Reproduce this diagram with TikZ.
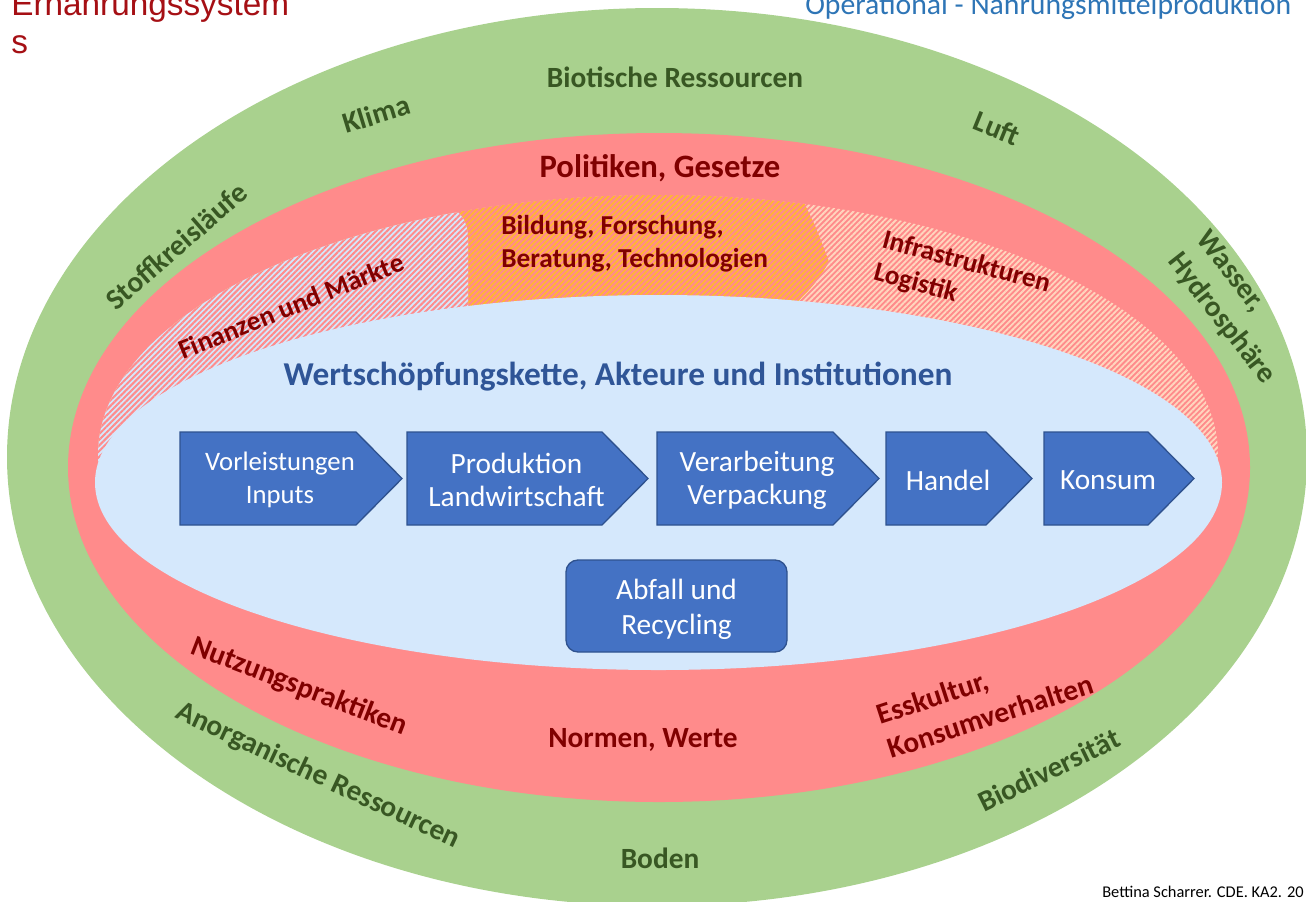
\documentclass[tikz,border=0pt]{standalone}
\usepackage{fontspec}
\setmainfont{Carlito}
\newfontfamily\titlefont{Liberation Sans}
\usepackage{xcolor}
\usetikzlibrary{patterns.meta}
\definecolor{ringgreen}{HTML}{A9D18E}
\definecolor{txtgreen}{HTML}{385723}
\definecolor{ringred}{HTML}{FF8B8B}
\definecolor{txtred}{HTML}{800000}
\definecolor{coreblue}{HTML}{D5E8FC}
\definecolor{txtblue}{HTML}{2F5597}
\definecolor{boxblue}{HTML}{4472C4}
\definecolor{boxedge}{HTML}{2F528F}
\definecolor{stripepeach}{HTML}{FFD6BE}
\definecolor{stripegold}{HTML}{FFB92E}
\definecolor{headblue}{HTML}{2E75B6}
\definecolor{headred}{HTML}{A50F14}

\begin{document}
\begin{tikzpicture}[x=0.75pt,y=-0.75pt]
  \tikzset{greenlbl/.style = {text=txtgreen, font=\fontsize{22}{27}\selectfont\bfseries, inner sep=0pt, align=left}}
  \tikzset{redlbl/.style = {text=txtred, font=\fontsize{22}{27}\selectfont\bfseries, inner sep=0pt, align=left}}
  \tikzset{bandlbl/.style = {text=txtred, font=\fontsize{20.5}{25}\selectfont\bfseries, inner sep=0pt, align=left}}
  \tikzset{boxtext/.style = {text=white, inner sep=0pt, align=center}}
  \tikzset{chainbox/.style = {fill=boxblue, draw=boxedge, line width=1pt}}
  \tikzset{wastebox/.style = {fill=boxblue, draw=boxedge, line width=1pt, rounded corners=9pt}}
  \tikzset{%
  peachhatch/.style={fill=ringred, postaction={pattern={Lines[angle=45,distance=3pt,line width=1.4pt]}, pattern color=stripepeach}},
  goldhatch/.style={fill=ringred, postaction={pattern={Lines[angle=45,distance=3pt,line width=1.2pt]}, pattern color=stripegold}},
  redhatch/.style={fill=coreblue, postaction={pattern={Lines[angle=45,distance=3pt,line width=1.5pt]}, pattern color=ringred}},
}
  \useasboundingbox (0,0) rectangle (1306,901);
  \clip (0,0) rectangle (1306,901);

  % rings
  \fill[ringgreen] (657,457) ellipse [x radius=650, y radius=449];
  \fill[ringred] (659,467.5) ellipse [x radius=591, y radius=334.5];

  % hatched band
  \begin{scope}
    \clip (658,455) ellipse [x radius=560, y radius=260];
    \clip (0,0) rectangle (1306,462);
    \path[peachhatch] (0,0) rectangle (1306,462);
    \path[goldhatch] (60,100) -- (795,100) -- (800,195) .. controls (815,225) .. (829,262) .. controls (815,284) .. (793,306) -- (60,470) -- cycle;
    \path[redhatch] (60,100) -- (445,100) -- (445,205) .. controls (462,211) and (468,222) .. (468,240) -- (468,470) -- (60,470) -- cycle;
  \end{scope}
  \fill[coreblue] (658.5,482.5) ellipse [x radius=563.5, y radius=187.5];

  % value chain
  \foreach \nm/\xa/\xb/\fs/\txt in {vorl/180/402/20/{Vorleistungen\\Inputs}, prod/407/648/22/{Produktion\\Landwirtschaft}, verarb/657/879/22/{Verarbeitung\\Verpackung}, handel/886/1032/22/Handel, konsum/1044/1194/22/Konsum}
  {
    \draw[chainbox] (\xa,432) -- (\xb-46,432) -- (\xb,478.5) -- (\xb-46,525) -- (\xa,525) -- cycle;
    \node[boxtext, font=\fontsize{\fs}{25}\selectfont] (\nm) at ({(\xa+\xb)/2-11},480) {\txt};
  }
  \draw[wastebox] (566,560) rectangle (787,652);
  \node[boxtext, font=\fontsize{22}{26}\selectfont] (abfall) at (676.5,609) {Abfall und\\Recycling};

  % labels
  \node[greenlbl] (biotisch) at (675,77) {Biotische Ressourcen};
  \node[greenlbl, rotate=17] (klima) at (376,114) {Klima};
  \node[greenlbl, rotate=-22] (luft) at (997,128) {Luft};
  \node[greenlbl, rotate=41] (stoff) at (176,246) {Stoffkreisläufe};
  \node[greenlbl, rotate=-52] (wasser) at (1235,308) {Wasser,\\Hydrosphäre};
  \node[greenlbl, rotate=-25] (anorg) at (318,776) {Anorganische Ressourcen};
  \node[greenlbl] (boden) at (660,858) {Boden};
  \node[greenlbl, rotate=26] (biodiv) at (1049,770) {Biodiversität};

  \node[redlbl, font=\fontsize{24.5}{29}\selectfont\bfseries] (politik) at (660,168) {Politiken, Gesetze};
  \node[redlbl, rotate=-21] (nutzung) at (299,687) {Nutzungspraktiken};
  \node[redlbl] (normen) at (643,740) {Normen, Werte};
  \node[redlbl, rotate=18] (esskultur) at (985,699) {Esskultur,\\Konsumverhalten};

  \node[bandlbl, anchor=west] (bildung) at (501,244) {Bildung, Forschung,\\Beratung, Technologien};
  \node[bandlbl, rotate=22] (finanzen) at (291,306) {Finanzen und Märkte};
  \node[bandlbl, rotate=-15] (infra) at (962,279) {Infrastrukturen\\Logistik};

  \node[text=txtblue, inner sep=0pt, font=\fontsize{25}{29}\selectfont\bfseries] (wsk) at (618,377) {Wertschöpfungskette, Akteure und Institutionen};

  % headers
  \node[anchor=west, inner sep=0pt, align=left, text=headred, font=\titlefont\fontsize{25}{28.5}\selectfont] (title) at (11,23) {Ernährungssystem\\s};
  \node[anchor=base west, inner sep=0pt, text=headblue, font=\fontsize{22.3}{27}\selectfont] (subtitle) at (805,14.5) {Operational - Nahrungsmittelproduktion};
  \node[anchor=base west, inner sep=0pt, font=\fontsize{12.3}{15}\selectfont] (credit) at (1102,897) {Bettina Scharrer. CDE. KA2. 20};
\end{tikzpicture}
\end{document}
